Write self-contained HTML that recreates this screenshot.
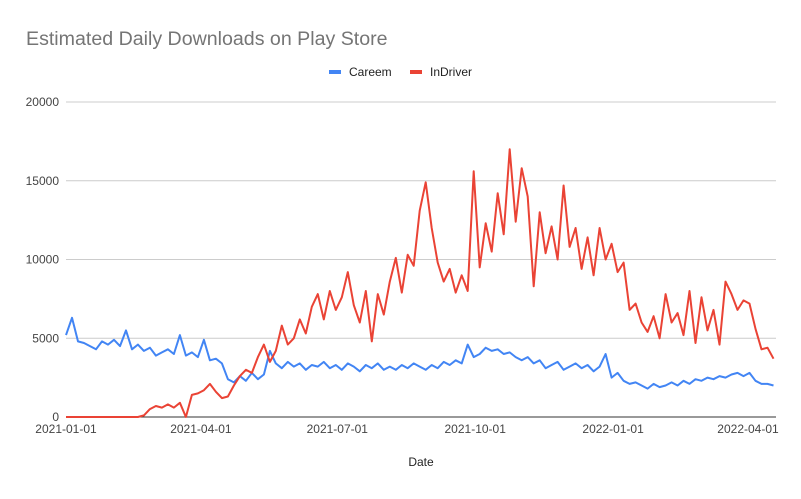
<!DOCTYPE html>
<html><head><meta charset="utf-8"><style>
body{margin:0;background:#fff;font-family:"Liberation Sans",Arial,sans-serif}
svg text{font-family:"Liberation Sans",Arial,sans-serif}
</style></head><body>
<svg id="chart" width="801" height="494">
<rect width="801" height="494" fill="#fff"/>
<text x="26" y="45" font-size="19.6" fill="#757575">Estimated Daily Downloads on Play Store</text>
<g>
<rect x="329" y="70" width="12" height="4" fill="#4285f4"/>
<text x="349" y="76" font-size="12" fill="#222">Careem</text>
<rect x="410" y="70" width="12" height="4" fill="#ea4335"/>
<text x="430" y="76" font-size="12" fill="#222">InDriver</text>
</g>
<g id="grid"></g><g id="series"></g><g id="xaxis"></g>
<text x="421" y="466" font-size="12" fill="#222" text-anchor="middle">Date</text>
</svg>
<script>
const yTicks=[0,5000,10000,15000,20000];
const xTickLabels=["2021-01-01","2021-04-01","2021-07-01","2021-10-01","2022-01-01","2022-04-01"];
const xTickDays=[0,90,181,273,365,455];
const stepDays=4;
const careem=[5200,6300,4800,4700,4500,4300,4800,4600,4900,
4500,5500,4300,4600,4200,4400,3900,4100,4300,
4000,5200,3900,4100,3800,4900,3600,3700,3400,
2400,2200,2600,2300,2800,2400,2700,4200,3400,
3100,3500,3200,3400,3000,3300,3200,3500,3100,
3300,3000,3400,3200,2900,3300,3100,3400,3000,
3200,3000,3300,3100,3400,3200,3000,3300,3100,
3500,3300,3600,3400,4600,3800,4000,4400,4200,
4300,4000,4100,3800,3600,3800,3400,3600,3100,
3300,3500,3000,3200,3400,3100,3300,2900,3200,
4000,2500,2800,2300,2100,2200,2000,1800,2100,
1900,2000,2200,2000,2300,2100,2400,2300,2500,
2400,2600,2500,2700,2800,2600,2800,2300,2100,2100,2000];
const indriver=[0,0,0,0,0,0,0,0,0,
0,0,0,0,100,500,700,600,800,
600,900,0,1400,1500,1700,2100,1600,1200,
1300,2000,2600,3000,2800,3800,4600,3500,4200,
5800,4600,5000,6200,5300,7000,7800,6200,8000,
6800,7600,9200,7100,6000,8000,4800,7800,6500,
8600,10100,7900,10300,9600,13100,14900,12000,9800,
8600,9400,7900,9000,8000,15600,9500,12300,10500,
14200,11600,17000,12400,15800,14000,8300,13000,10400,
12100,10000,14700,10800,12000,9400,11400,9000,12000,
10000,11000,9200,9800,6800,7200,6000,5400,6400,
5000,7800,6000,6600,5200,8000,4700,7600,5500,
6800,4600,8600,7800,6800,7400,7200,5600,4300,4400,3700];
const NS="http://www.w3.org/2000/svg";
const X0=66,X1=776,Y0=417,Y1=102;
const xs=d=>X0+d*(748-X0)/455;
const ys=v=>Y0-v*(Y0-Y1)/20000;
function mk(t,a){const e=document.createElementNS(NS,t);for(const k in a)e.setAttribute(k,a[k]);return e;}
const grid=document.getElementById('grid');
yTicks.forEach(v=>{
 const l=mk('line',{x1:X0,x2:X1,y1:ys(v),y2:ys(v),stroke:v===0?'#333':'#ccc','stroke-width':1});
 
 
 grid.appendChild(l);
 const t=mk('text',{x:59,y:ys(v)+4,'font-size':12,fill:'#444','text-anchor':'end'});
 t.textContent=v;
 
 
 grid.appendChild(t);
});
const xa=document.getElementById('xaxis');
xTickLabels.forEach((s,i)=>{
 const t=mk('text',{x:xs(xTickDays[i]),y:433,'font-size':12,fill:'#444','text-anchor':'middle'});
 t.textContent=s;
 
 
 xa.appendChild(t);
});
const sg=document.getElementById('series');
[[careem,'#4285f4','careem'],[indriver,'#ea4335','indriver']].forEach(([arr,c,n])=>{
 const d=arr.map((v,i)=>(i?'L':'M')+xs(i*stepDays).toFixed(1)+','+ys(v).toFixed(1)).join('');
 const p=mk('path',{d:d,fill:'none',stroke:c,'stroke-width':2,'stroke-linejoin':'round'});
 
 
 sg.appendChild(p);
});
</script>
</body></html>
